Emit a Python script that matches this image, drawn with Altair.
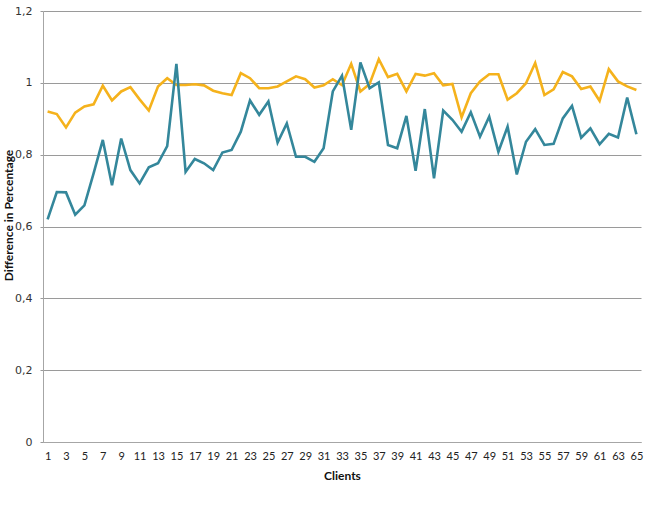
import altair as alt
import pandas as pd

clients = list(range(1, 66))

# ratio series (yellow)
series_a = [0.92, 0.913, 0.876, 0.917, 0.934, 0.94, 0.992, 0.951, 0.976, 0.988,
            0.954, 0.923, 0.99, 1.013, 0.994, 0.994, 0.996, 0.993, 0.978, 0.971,
            0.966, 1.027, 1.013, 0.985, 0.985, 0.99, 1.004, 1.018, 1.01, 0.987,
            0.993, 1.01, 0.994, 1.053, 0.976, 0.997, 1.066, 1.016, 1.025, 0.976,
            1.025, 1.02, 1.027, 0.993, 0.997, 0.904, 0.971, 1.004, 1.024, 1.024,
            0.953, 0.971, 0.999, 1.055, 0.966, 0.982, 1.03, 1.018, 0.983, 0.99,
            0.95, 1.038, 1.004, 0.99, 0.98]

# ratio series (teal)
series_b = [0.62, 0.696, 0.695, 0.633, 0.659, 0.748, 0.841, 0.715, 0.845, 0.757,
            0.72, 0.765, 0.776, 0.824, 1.053, 0.752, 0.788, 0.776, 0.757, 0.806,
            0.813, 0.864, 0.951, 0.911, 0.948, 0.834, 0.887, 0.794, 0.794, 0.78,
            0.818, 0.976, 1.02, 0.869, 1.057, 0.985, 1.001, 0.827, 0.818, 0.908,
            0.755, 0.927, 0.734, 0.923, 0.897, 0.864, 0.918, 0.85, 0.906, 0.808,
            0.878, 0.745, 0.836, 0.871, 0.827, 0.83, 0.901, 0.936, 0.847, 0.873,
            0.829, 0.858, 0.848, 0.959, 0.857]

x_ticks = list(range(1, 66, 2))
y_ticks = [0, 0.2, 0.4, 0.6, 0.8, 1.0, 1.2]

df_a = pd.DataFrame({"Client": clients, "Value": series_a})
df_b = pd.DataFrame({"Client": clients, "Value": series_b})

x_enc = alt.X(
    "Client:Q",
    scale=alt.Scale(domain=[0.5, 65.5], nice=False, zero=False),
    axis=alt.Axis(
        values=x_ticks, title="Clients", grid=False, ticks=False,
        domain=True, domainColor="#a6a6a6", domainWidth=1,
        labelFont="Lato", labelFontSize=11, labelColor="#222222",
        labelPadding=8, labelOverlap=False, labelFlush=False,
        titleFont="Lato", titleFontSize=12, titleFontWeight="bold",
        titleColor="#111111", titlePadding=9,
    ),
)

y_enc = alt.Y(
    "Value:Q",
    scale=alt.Scale(domain=[0, 1.2], nice=False),
    axis=alt.Axis(
        values=y_ticks,
        labelExpr="replace(format(datum.value, '.1~f'), '.', ',')",
        title="Difference in Percentage",
        grid=True, gridColor="#9a9a9a", gridWidth=1,
        ticks=True, tickSize=3, tickColor="#9a9a9a",
        domain=True, domainColor="#a6a6a6", domainWidth=1,
        labelFont="DejaVu Sans", labelFontSize=11, labelColor="#333333",
        labelPadding=8,
        titleFont="Lato", titleFontSize=12, titleFontWeight="bold",
        titleColor="#111111", titleX=-31, titleY=204,
        titleAngle=270, titleAlign="center", titleBaseline="alphabetic",
    ),
)

line_a = alt.Chart(df_a).mark_line(color="#F5B21C", strokeWidth=2.6).encode(x=x_enc, y=y_enc)
line_b = alt.Chart(df_b).mark_line(color="#34879B", strokeWidth=2.6).encode(x=x_enc, y=y_enc)

chart = (
    alt.layer(line_a, line_b)
    .properties(
        width=598, height=431,
        autosize=alt.AutoSizeParams(type="none"),
        padding={"left": 43, "top": 11, "right": 14, "bottom": 80},
        background="white",
    )
    .configure_view(stroke=None)
)

chart.save("out.html", embed_options={"renderer": "svg", "actions": False})
